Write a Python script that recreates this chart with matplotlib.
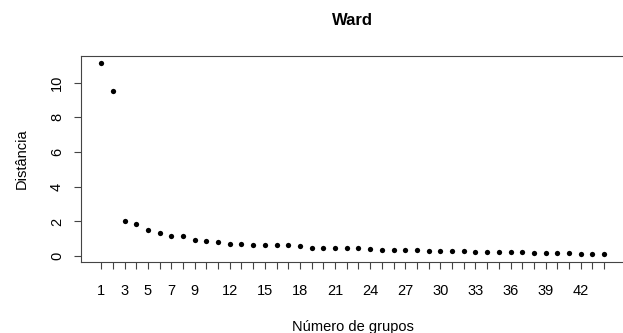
import matplotlib
matplotlib.use("Agg")
import matplotlib.pyplot as plt

plt.rcParams['font.family'] = ['Liberation Sans', 'DejaVu Sans']

# fusion height per number of groups (Ward clustering)
grupos = list(range(1, 45))
distancia = [11.11, 9.50, 2.05, 1.86, 1.50, 1.36, 1.19, 1.17, 0.96, 0.88,
             0.82, 0.73, 0.69, 0.67, 0.65, 0.65, 0.63, 0.61, 0.48, 0.46,
             0.46, 0.46, 0.45, 0.40, 0.36, 0.36, 0.33, 0.33, 0.31, 0.29,
             0.29, 0.29, 0.25, 0.25, 0.25, 0.23, 0.23, 0.21, 0.21, 0.19,
             0.19, 0.13, 0.12, 0.12]
x_labels_shown = [1, 3, 5, 7, 9, 12, 15, 18, 21, 24, 27, 30, 33, 36, 39, 42]
y_ticks = [0, 2, 4, 6, 8, 10]

fig = plt.figure(figsize=(6.23, 3.33), dpi=100)
ax = fig.add_axes([0.130, 0.214, 0.872, 0.619])

ax.plot(grupos, distancia, 'o', color='black', markersize=3.8, markeredgewidth=0)

# R-style 4% padding around the data range
xr = max(grupos) - min(grupos)
ax.set_xlim(min(grupos) - 0.04 * xr, max(grupos) + 0.04 * xr)
yr = max(distancia) - min(distancia)
ax.set_ylim(min(distancia) - 0.04 * yr, max(distancia) + 0.04 * yr)

ax.set_xticks(grupos)
ax.set_xticklabels([str(g) if g in x_labels_shown else '' for g in grupos])
ax.set_yticks(y_ticks)
ax.set_yticklabels([str(v) for v in y_ticks], rotation=90, va='center')

ax.tick_params(axis='both', direction='out', length=5.2, width=0.8,
               color='#444444', labelsize=10.5, pad=11)
ax.tick_params(axis='y', pad=7)
for s in ax.spines.values():
    s.set_linewidth(0.8)
    s.set_color('#444444')

ax.set_title('Ward', fontsize=12, fontweight='bold', pad=22)
ax.set_xlabel('Número de grupos', fontsize=10.5, labelpad=15.5)
ax.set_ylabel('Distância', fontsize=10.5, labelpad=15)

fig.savefig('out.png', dpi=100)
